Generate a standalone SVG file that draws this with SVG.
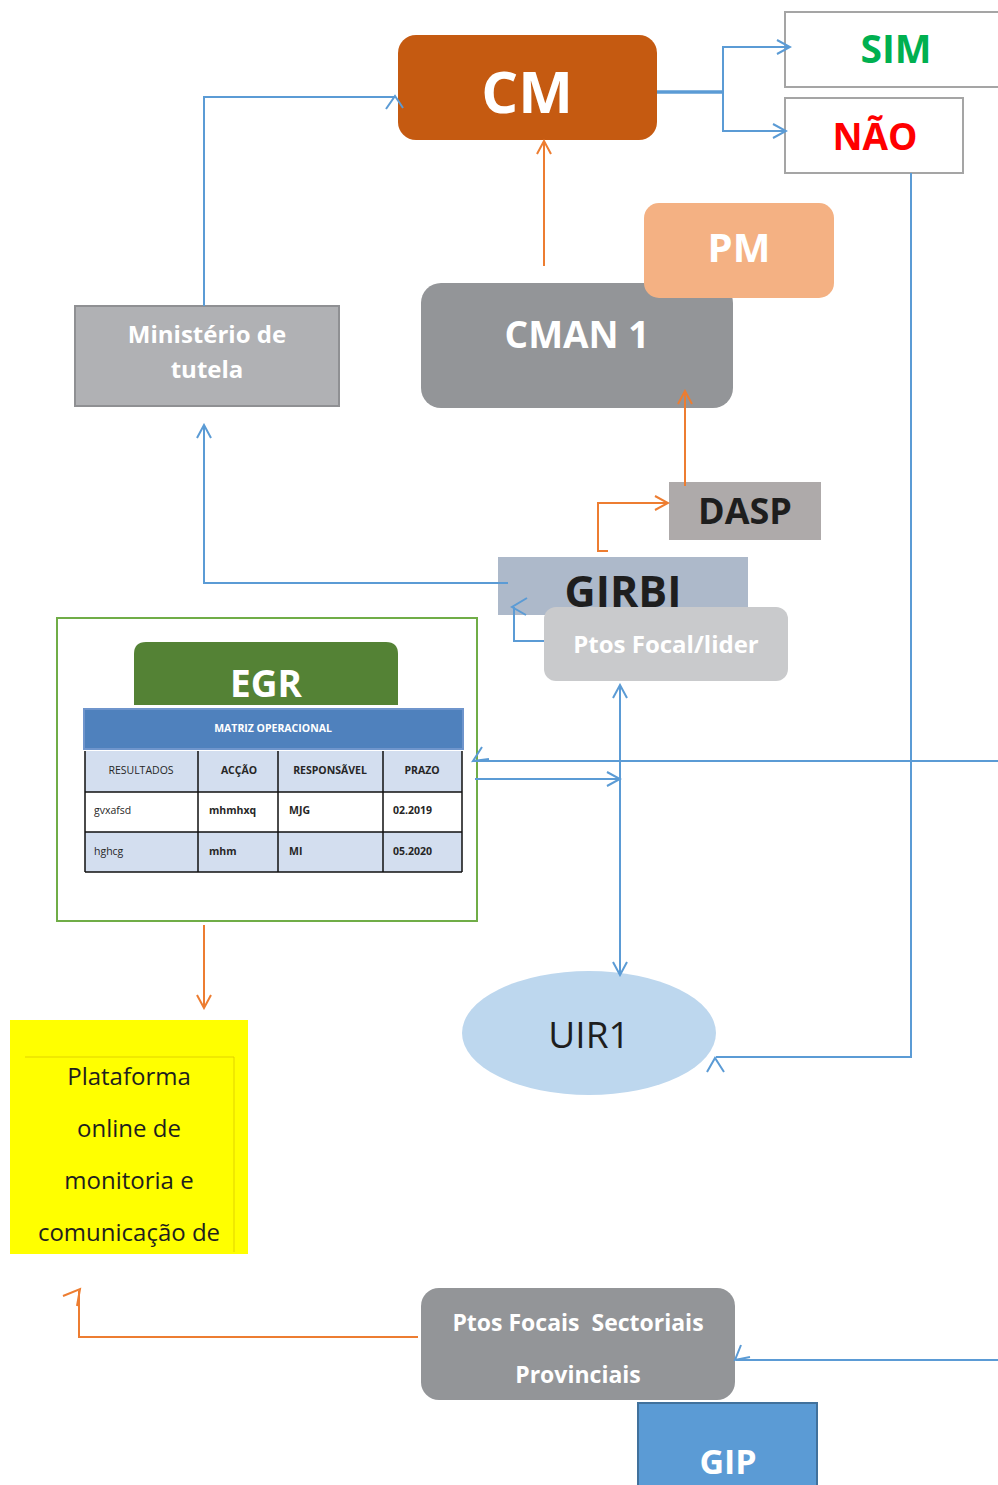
<svg xmlns="http://www.w3.org/2000/svg" width="998" height="1485" viewBox="0 0 998 1485">
<style>
text{font-family:"Open Sans","Noto Sans","Liberation Sans",sans-serif;text-anchor:middle}
.b{font-weight:bold}
.w{fill:#ffffff}
.dk{fill:#1e1e1e}
.cb{fill:none;stroke:#5B9BD5;stroke-width:2}
.co{fill:none;stroke:#ED7D31;stroke-width:2}
.tb{font-size:10.5px;fill:#262626}
.tl{text-anchor:start}
.cell{stroke:#111;stroke-width:1.5}
</style>
<defs>
<marker id="ab" viewBox="0 0 16 16" refX="14" refY="8" markerWidth="16" markerHeight="16" orient="auto-start-reverse" markerUnits="userSpaceOnUse"><path d="M1,1 L14,8 L1,15" fill="none" stroke="#5B9BD5" stroke-width="2"/></marker>
<marker id="ao" viewBox="0 0 16 16" refX="14" refY="8" markerWidth="16" markerHeight="16" orient="auto" markerUnits="userSpaceOnUse"><path d="M1,1 L14,8 L1,15" fill="none" stroke="#ED7D31" stroke-width="2"/></marker>
</defs>

<g id="node-sim"><rect x="785" y="12" width="216" height="75" fill="#fff" stroke="#A5A5A5" stroke-width="2"/><text x="896" y="63" class="b" font-size="39" fill="#00B050">SIM</text></g>
<g id="node-nao"><rect x="785" y="98" width="178" height="75" fill="#fff" stroke="#A5A5A5" stroke-width="2"/><text x="875" y="150" class="b" font-size="37" fill="#FF0000">NÃO</text></g>
<g id="node-cm"><rect x="398" y="35" width="259" height="105" rx="18" fill="#C55A11"/><text x="527" y="113" class="b w" font-size="58">CM</text></g>
<g id="node-cman1"><rect x="421" y="283" width="312" height="125" rx="20" fill="#939598"/><text x="577" y="348" class="b w" font-size="37">CMAN 1</text></g>
<g id="node-pm"><rect x="644" y="203" width="190" height="95" rx="15" fill="#F4B183"/><text x="739" y="262" class="b w" font-size="40">PM</text></g>
<g id="node-ministerio"><rect x="75" y="306" width="264" height="100" fill="#B0B1B4" stroke="#8F9093" stroke-width="2"/><text x="207" y="343" class="b w" font-size="24">Ministério de</text><text x="207" y="378" class="b w" font-size="24">tutela</text></g>
<g id="node-dasp"><rect x="669" y="482" width="152" height="58" fill="#AEAAAA"/><text x="745" y="524" class="b dk" font-size="36">DASP</text></g>
<g id="node-girbi"><rect x="498" y="557" width="250" height="58" fill="#ADB9CA"/><text x="623" y="607" class="b dk" font-size="43">GIRBI</text></g>
<g id="node-ptos-focal"><rect x="544" y="607" width="244" height="74" rx="12" fill="#C9CACC"/><text x="666" y="653" class="b w" font-size="24">Ptos Focal/lider</text></g>

<g id="node-egr">
<rect x="57" y="618" width="420" height="303" fill="#fff" stroke="#70AD47" stroke-width="2"/>
<path d="M134,705 V654 Q134,642 146,642 H386 Q398,642 398,654 V705 Z" fill="#548235"/>
<text x="266" y="697" class="b w" font-size="37">EGR</text>
<rect x="84" y="709" width="379" height="40" fill="#4F81BD" stroke="#6F95CC" stroke-width="2"/>
<text x="273" y="732" class="b w" font-size="10.5">MATRIZ OPERACIONAL</text>
<rect x="85" y="751" width="377" height="41" fill="#D3DEEF"/>
<rect x="85" y="832" width="377" height="40" fill="#D3DEEF"/>
<path class="cell" d="M85,751 V872 M198,751 V872 M278,751 V872 M383,751 V872 M462,751 V872 M85,792 H462 M85,832 H462 M85,872 H462"/>
<text x="141" y="774" class="tb">RESULTADOS</text>
<text x="239" y="774" class="tb b">ACÇÃO</text>
<text x="330" y="774" class="tb b">RESPONSÃVEL</text>
<text x="422" y="774" class="tb b">PRAZO</text>
<text x="94" y="814" class="tb tl">gvxafsd</text>
<text x="209" y="814" class="tb tl b">mhmhxq</text>
<text x="289" y="814" class="tb tl b">MJG</text>
<text x="393" y="814" class="tb tl b">02.2019</text>
<text x="94" y="855" class="tb tl">hghcg</text>
<text x="209" y="855" class="tb tl b">mhm</text>
<text x="289" y="855" class="tb tl b">MI</text>
<text x="393" y="855" class="tb tl b">05.2020</text>
</g>

<g id="node-uir1"><ellipse cx="589" cy="1033" rx="127" ry="62" fill="#BDD7EE"/><text x="589" y="1048" class="dk" font-size="37">UIR1</text></g>

<g id="node-plataforma">
<rect x="10" y="1020" width="238" height="234" fill="#FFFF00"/>
<path d="M25,1057 H234 V1252" fill="none" stroke="#D9C800" stroke-width="0.8"/>
<text x="129" y="1085" class="dk" font-size="24">Plataforma</text>
<text x="129" y="1137" class="dk" font-size="24">online de</text>
<text x="129" y="1189" class="dk" font-size="24">monitoria e</text>
<text x="129" y="1241" class="dk" font-size="24">comunicação de</text>
</g>

<g id="node-ptos-focais"><rect x="421" y="1288" width="314" height="112" rx="18" fill="#939598"/><text x="578" y="1331" class="b w" font-size="23" style="white-space:pre">Ptos Focais  Sectoriais</text><text x="578" y="1383" class="b w" font-size="23">Provinciais</text></g>
<g id="node-gip"><rect x="638" y="1403" width="179" height="90" fill="#5B9BD5" stroke="#41719C" stroke-width="2"/><text x="728" y="1474" class="b w" font-size="34">GIP</text></g>

<g id="connectors">
<path d="M657,92 H723" fill="none" stroke="#5B9BD5" stroke-width="3.5"/>
<path class="cb" d="M723,92 V47 H790" marker-end="url(#ab)"/>
<path class="cb" d="M723,92 V131 H786" marker-end="url(#ab)"/>
<path class="cb" d="M204,306 V97 H395"/>
<path class="cb" d="M386,109 L395,96 L403,108"/>
<path class="co" d="M544,266 V141" marker-end="url(#ao)"/>
<path class="co" d="M685,486 V391" marker-end="url(#ao)"/>
<path class="co" d="M608,551 H598 V503 H668" marker-end="url(#ao)"/>
<path class="cb" d="M508,583 H204 V425" marker-end="url(#ab)"/>
<path class="cb" d="M544,641 H514 V607"/>
<path class="cb" d="M527,598 L512,607 L526,615"/>
<path class="cb" d="M998,761 H473"/>
<path class="cb" d="M482,747 L473,761 L489,759"/>
<path class="cb" d="M475,779 H620" marker-end="url(#ab)"/>
<path class="cb" d="M620,685 V975" marker-start="url(#ab)" marker-end="url(#ab)"/>
<path class="cb" d="M911,173 V1057 H716"/>
<path class="cb" d="M707,1072 L715,1058 L724,1072"/>
<path class="co" d="M204,925 V1008" marker-end="url(#ao)"/>
<path class="co" d="M418,1337 H79 V1291"/>
<path class="co" d="M63,1296 L80,1289 L77,1306"/>
<path class="cb" d="M998,1360 H736"/>
<path class="cb" d="M741,1345 L735,1360 L750,1357"/>
</g>
</svg>
